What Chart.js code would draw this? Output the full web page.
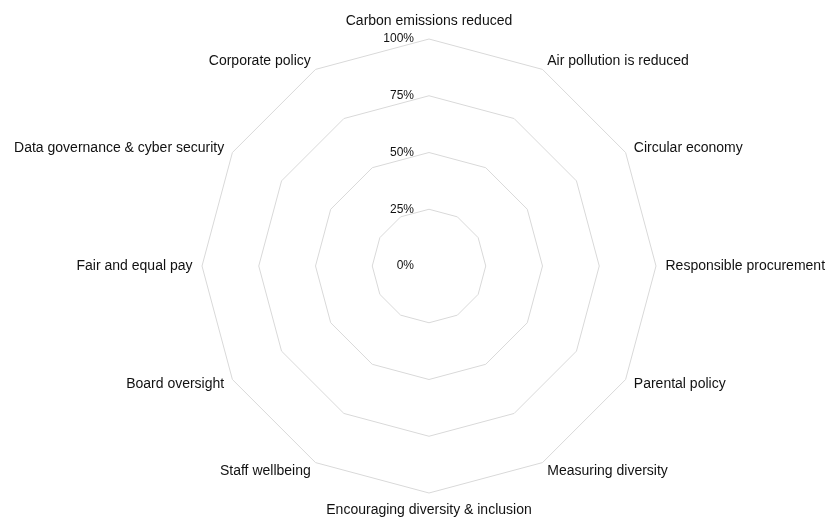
<!DOCTYPE html>
<html>
<head>
<meta charset="utf-8">
<script src="https://cdn.jsdelivr.net/npm/chart.js@4.4.0/dist/chart.umd.min.js"></script>
<style>
html,body{margin:0;padding:0;background:#fff;}
#wrap{width:828px;height:517px;}
</style>
</head>
<body>
<div id="wrap"><canvas id="c"></canvas></div>
<script>
const categories = [
  "Carbon emissions reduced",
  "Air pollution is reduced",
  "Circular economy",
  "Responsible procurement",
  "Parental policy",
  "Measuring diversity",
  "Encouraging diversity & inclusion",
  "Staff wellbeing",
  "Board oversight",
  "Fair and equal pay",
  "Data governance & cyber security",
  "Corporate policy"
];
// The reference shows no plotted series (all values empty)
const values = [null, null, null, null, null, null, null, null, null, null, null, null];
const tickValues = [0, 25, 50, 75, 100];
const tickLabels = ["0%", "25%", "50%", "75%", "100%"];

const FONT = '"Liberation Sans", Arial, sans-serif';

// Excel-style labels: point labels centred vertically on their radial position,
// tick labels to the left of the vertical axis.
const labelPlugin = {
  id: 'excelLabels',
  afterDraw(chart) {
    const s = chart.scales.r;
    const ctx = chart.ctx;
    ctx.save();
    // tick labels
    ctx.font = '12px ' + FONT;
    ctx.fillStyle = '#111';
    ctx.textAlign = 'right';
    ctx.textBaseline = 'middle';
    tickValues.forEach((v, i) => {
      const d = s.getDistanceFromCenterForValue(v);
      ctx.fillText(tickLabels[i], s.xCenter - 15, s.yCenter - d);
    });
    // point (category) labels
    ctx.font = '14px ' + FONT;
    const labels = chart.data.labels;
    labels.forEach((lab, i) => {
      const p = s.getPointPosition(i, s.drawingArea + 9.5);
      const deg = Math.round(s.getIndexAngle(i) * 180 / Math.PI) % 360;
      let align = 'center';
      let y = p.y;
      if (deg === 0) { y -= 8; }
      else if (deg === 180) { y += 8; }
      else if (deg < 180) { align = 'left'; }
      else { align = 'right'; }
      ctx.textAlign = align;
      ctx.textBaseline = 'middle';
      ctx.fillText(lab, p.x, y);
    });
    ctx.restore();
  }
};

new Chart(document.getElementById('c'), {
  type: 'radar',
  data: {
    labels: categories,
    datasets: [{
      label: 'Score',
      data: values,
      borderColor: '#4472c4',
      backgroundColor: 'rgba(68,114,196,0.2)',
      pointRadius: 0
    }]
  },
  options: {
    responsive: true,
    maintainAspectRatio: false,
    animation: false,
    layout: { padding: { top: 39, bottom: 24, left: 30, right: 0 } },
    plugins: { legend: { display: false }, tooltip: { enabled: false } },
    scales: {
      r: {
        min: 0,
        max: 100,
        ticks: { display: false, stepSize: 25 },
        angleLines: { display: false },
        grid: { color: '#d9d9d9', lineWidth: 1 },
        pointLabels: { display: false }
      }
    }
  },
  plugins: [labelPlugin]
});
</script>
</body>
</html>
